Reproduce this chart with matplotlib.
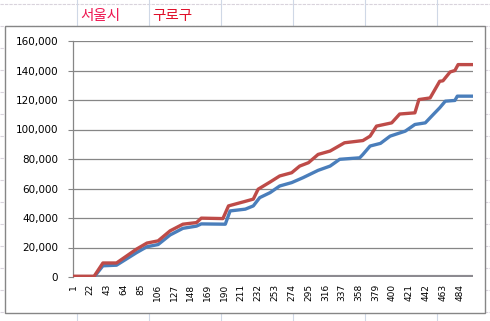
import matplotlib
matplotlib.use("Agg")
import matplotlib.pyplot as plt
from matplotlib.lines import Line2D
from matplotlib.patches import Rectangle

# cumulative counts (index, value)
red_idx = [1, 27, 38, 55, 80, 93, 107, 122, 138, 155, 161, 188, 195, 214, 226, 232,
           247, 259, 274, 284, 295, 307, 322, 340, 363, 372, 380, 399, 409, 428, 433,
           447, 459, 463, 472, 478, 482, 500]
red_val = [500, 500, 9500, 9500, 18900, 23000, 24500, 31300, 35800, 36900, 39900,
           39600, 48200, 51000, 52800, 59500, 64400, 68500, 70700, 75200, 77500,
           83100, 85400, 91000, 92500, 95500, 102300, 104500, 110500, 111300, 120300,
           121400, 132700, 133000, 139000, 140000, 144000, 144000]

blue_idx = [1, 27, 38, 55, 80, 93, 107, 122, 138, 155, 161, 191, 197, 216, 226, 234,
            247, 259, 274, 288, 307, 322, 334, 359, 363, 372, 385, 397, 416, 428, 441,
            451, 459, 466, 478, 481, 500]
blue_val = [0, 0, 7600, 8000, 16500, 20500, 22000, 28500, 33000, 34500, 36000, 35800,
            44800, 46000, 48200, 53800, 57200, 61700, 64000, 67300, 72300, 75200, 79800,
            80800, 83100, 88800, 90600, 95500, 98900, 103400, 104500, 110200, 114700,
            119200, 119700, 122600, 122600]

zero_idx = [1, 500]
zero_val = [0, 0]

xtick_pos = list(range(1, 500, 21))
ytick_pos = [0, 20000, 40000, 60000, 80000, 100000, 120000, 140000, 160000]

W, H = 490, 321
fig = plt.figure(figsize=(W / 100, H / 100), dpi=100)


def fx(px):
    return px / W


def fy(py):
    return 1 - py / H


# spreadsheet cell lines behind the chart
for ry in range(4, 321, 22):
    fig.add_artist(Line2D([0, 1], [fy(ry), fy(ry)], color="#d9d3dc", lw=0.8,
                          ls=(0, (3, 1)), zorder=0))
for cx in range(77, 490, 72):
    fig.add_artist(Line2D([fx(cx), fx(cx)], [0, 1], color="#cfd8e6", lw=0.8, zorder=0))

# chart box
fig.add_artist(Rectangle((fx(5), fy(313)), fx(485) - fx(5), fy(26) - fy(313),
                         transform=fig.transFigure, facecolor="white",
                         edgecolor="#868686", lw=1.0, zorder=1))

fig.text(fx(80), fy(16), "서울시", color="#ee1550", fontsize=10.5,
         family=["Noto Sans CJK KR", "DejaVu Sans"], va="center", ha="left")
fig.text(fx(152), fy(16), "구로구", color="#e0102a", fontsize=10.5,
         family=["Noto Sans CJK KR", "DejaVu Sans"], va="center", ha="left")

ax = fig.add_axes([fx(72.9), fy(277), fx(472.9) - fx(72.9), fy(41) - fy(277)])
ax.set_zorder(2)
ax.patch.set_alpha(0)

ax.plot(zero_idx, zero_val, color="#8c8a90", lw=3.0, solid_capstyle="butt", zorder=2)
ax.plot(blue_idx, blue_val, color="#4a7ebb", lw=2.4, zorder=3)
ax.plot(red_idx, red_val, color="#be4b48", lw=2.4, zorder=4)

ax.set_xlim(0.5, 500.5)
ax.set_ylim(0, 160000)
ax.set_yticks(ytick_pos)
ax.set_yticklabels([f"{v:,}" for v in ytick_pos], fontsize=7.5)
ax.set_xticks(xtick_pos)
ax.set_xticklabels([str(v) for v in xtick_pos], rotation=90, fontsize=6.5)
ax.yaxis.grid(True, color="#868686", lw=0.9)
ax.set_axisbelow(True)
ax.tick_params(axis="y", length=3.5, width=0.8, color="#868686", pad=7)
ax.tick_params(axis="x", length=0, pad=5)
for s in ["top", "right", "bottom"]:
    ax.spines[s].set_visible(False)
ax.spines["left"].set_color("#868686")
ax.spines["left"].set_linewidth(0.9)

fig.savefig("out.png", dpi=100, facecolor="white")
